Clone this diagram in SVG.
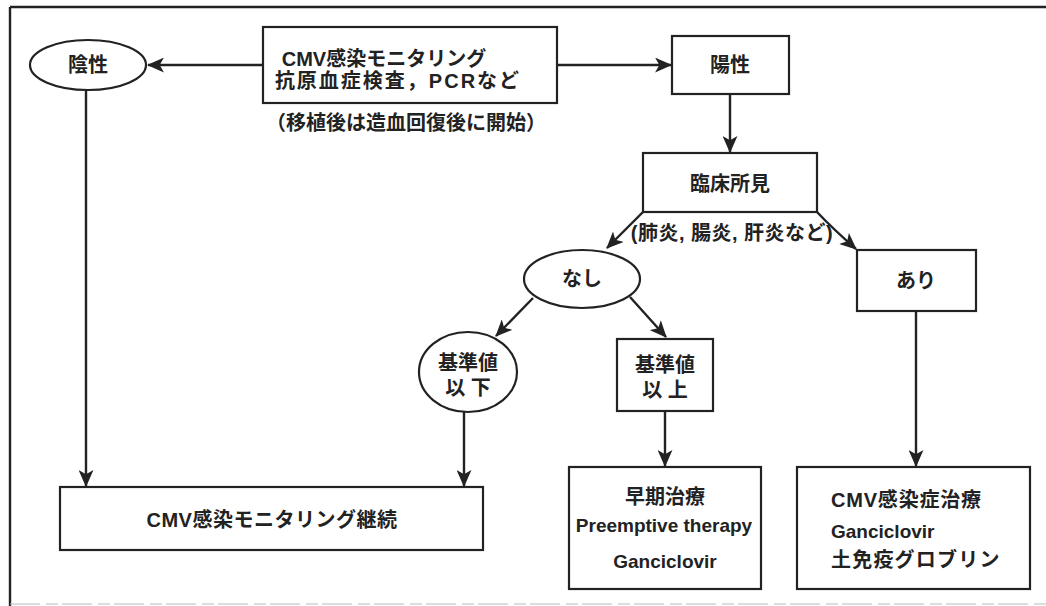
<svg xmlns="http://www.w3.org/2000/svg" width="1046" height="606" viewBox="0 0 1046 606">
<style>
.box{fill:#fff;stroke:#222;stroke-width:2.2}
.ln{fill:none;stroke:#222;stroke-width:2.4}
.t{font-family:"Liberation Sans","Noto Sans CJK JP",sans-serif;font-weight:bold;font-size:20px;fill:#222;text-anchor:middle;dominant-baseline:central}
.e{font-size:19px}
.l{text-anchor:start}
</style>
<defs>
<marker id="ah" viewBox="0 0 16 14" refX="15" refY="7" markerWidth="17" markerHeight="15" markerUnits="userSpaceOnUse" orient="auto">
<path d="M0,0 L16,7 L0,14 L4,7 z" fill="#222"/>
</marker>
</defs>
<rect width="1046" height="606" fill="#fff"/>
<g id="frame">
<line x1="10" y1="7" x2="1046" y2="7" class="ln" stroke-width="1.6"/>
<line x1="10" y1="7" x2="10" y2="606" class="ln" stroke-width="1.6"/>
<line x1="10" y1="604" x2="1046" y2="604" stroke="#bbb" stroke-width="1.2" stroke-dasharray="30 6 12 4"/>
</g>
<g id="connectors">
<line x1="263" y1="65" x2="148" y2="65" class="ln" marker-end="url(#ah)"/>
<line x1="557" y1="65" x2="671" y2="65" class="ln" marker-end="url(#ah)"/>
<line x1="730" y1="94" x2="730" y2="152" class="ln" marker-end="url(#ah)"/>
<line x1="86" y1="90" x2="86" y2="486" class="ln" marker-end="url(#ah)"/>
<path d="M643,212 L607,248" class="ln" marker-end="url(#ah)"/>
<path d="M817,212 Q832,228 856,249" class="ln" marker-end="url(#ah)"/>
<line x1="533" y1="298" x2="496" y2="336" class="ln" marker-end="url(#ah)"/>
<line x1="630" y1="297" x2="666" y2="337" class="ln" marker-end="url(#ah)"/>
<line x1="464" y1="412" x2="464" y2="486" class="ln" marker-end="url(#ah)"/>
<line x1="665" y1="411" x2="665" y2="466" class="ln" marker-end="url(#ah)"/>
<line x1="916" y1="311" x2="916" y2="466" class="ln" marker-end="url(#ah)"/>
</g>
<g id="monitoring">
<rect x="263" y="27" width="294" height="76" class="box"/>
<text x="384" y="59" class="t">CMV感染モニタリング</text>
<text x="398" y="81" class="t" letter-spacing="2">抗原血症検査，PCRなど</text>
</g>
<g id="note">
<text x="406" y="123" class="t">（移植後は造血回復後に開始）</text>
</g>
<g id="negative">
<ellipse cx="88" cy="65" rx="58" ry="25" class="box"/>
<text x="88" y="65" class="t">陰性</text>
</g>
<g id="positive">
<rect x="672" y="36" width="117" height="58" class="box"/>
<text x="730" y="65" class="t">陽性</text>
</g>
<g id="clinical">
<rect x="643" y="153" width="174" height="59" class="box"/>
<text x="730" y="184" class="t">臨床所見</text>
</g>
<g id="examples">
<text x="732" y="233" class="t" letter-spacing="0.5">(肺炎, 腸炎, 肝炎など)</text>
</g>
<g id="none">
<ellipse cx="582" cy="279" rx="58" ry="29" class="box"/>
<text x="582" y="279" class="t">なし</text>
</g>
<g id="present">
<rect x="857" y="250" width="119" height="61" class="box"/>
<text x="916" y="281" class="t">あり</text>
</g>
<g id="below">
<ellipse cx="468" cy="372" rx="49" ry="40" class="box"/>
<text x="468" y="363" class="t">基準値</text>
<text x="468" y="388" class="t">以 下</text>
</g>
<g id="above">
<rect x="617" y="339" width="96" height="72" class="box"/>
<text x="665" y="365" class="t">基準値</text>
<text x="665" y="390" class="t">以 上</text>
</g>
<g id="continue">
<rect x="60" y="487" width="423" height="63" class="box"/>
<text x="272" y="520" class="t" letter-spacing="0.5">CMV感染モニタリング継続</text>
</g>
<g id="early">
<rect x="569" y="467" width="192" height="122" class="box"/>
<text x="665" y="497" class="t">早期治療</text>
<text x="664" y="525" class="t e">Preemptive therapy</text>
<text x="665" y="561" class="t e">Ganciclovir</text>
</g>
<g id="treatment">
<rect x="797" y="467" width="233" height="122" class="box"/>
<text x="831" y="500" class="t l" letter-spacing="0.8">CMV感染症治療</text>
<text x="831" y="531" class="t l e">Ganciclovir</text>
<text x="831" y="560" class="t l" letter-spacing="1.2">土免疫グロブリン</text>
</g>
</svg>
